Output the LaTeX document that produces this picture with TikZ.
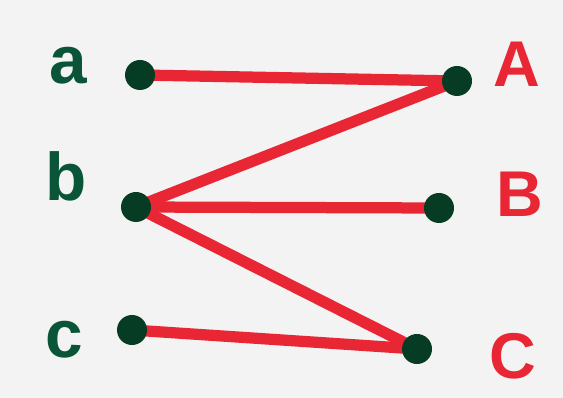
\documentclass[tikz,border=0pt]{standalone}
\usepackage{fontspec}
\setsansfont{Liberation Sans}
\usetikzlibrary{backgrounds}
\definecolor{paper}{RGB}{243,243,243}
\definecolor{markgreen}{RGB}{10,85,55}
\definecolor{dotgreen}{RGB}{5,60,35}
\definecolor{markred}{RGB}{232,38,52}
\tikzset{
  vtx/.style={circle,fill=dotgreen,minimum size=0.75cm,inner sep=0pt},
  lleft/.style={text=markgreen,font=\sffamily\bfseries\fontsize{48}{48}\selectfont},
  lright/.style={text=markred,font=\sffamily\bfseries\fontsize{46}{46}\selectfont},
  edge/.style={draw=markred,line width=8pt,line cap=round}
}
\begin{document}
\begin{tikzpicture}[x=0.025cm,y=-0.025cm]
\useasboundingbox (0,0) rectangle (563,398);
% left side
\node[lleft] (la) at (68,66) {a};
\node[lleft] (lb) at (66,176) {b};
\node[lleft] (lc) at (64,340) {c};
% right side
\node[lright] (lA) at (517,64) {A};
\node[lright] (lB) at (520,194) {B};
\node[lright] (lC) at (513,356) {C};
% dots
\node[vtx] (a) at (140,75) {};
\node[vtx] (b) at (136,207) {};
\node[vtx] (c) at (132,330) {};
\node[vtx] (A) at (457,81) {};
\node[vtx] (B) at (439,208) {};
\node[vtx] (C) at (417,349) {};
% paper and edges
\begin{pgfonlayer}{background}
\fill[paper] (0,0) rectangle (563,398);
\draw[edge] (a.center) -- (A.center);
\draw[edge] (b.center) -- (A.center);
\draw[edge] (b.center) -- (B.center);
\draw[edge] (b.center) -- (C.center);
\draw[edge] (c.center) -- (C.center);
\end{pgfonlayer}
\end{tikzpicture}
\end{document}
